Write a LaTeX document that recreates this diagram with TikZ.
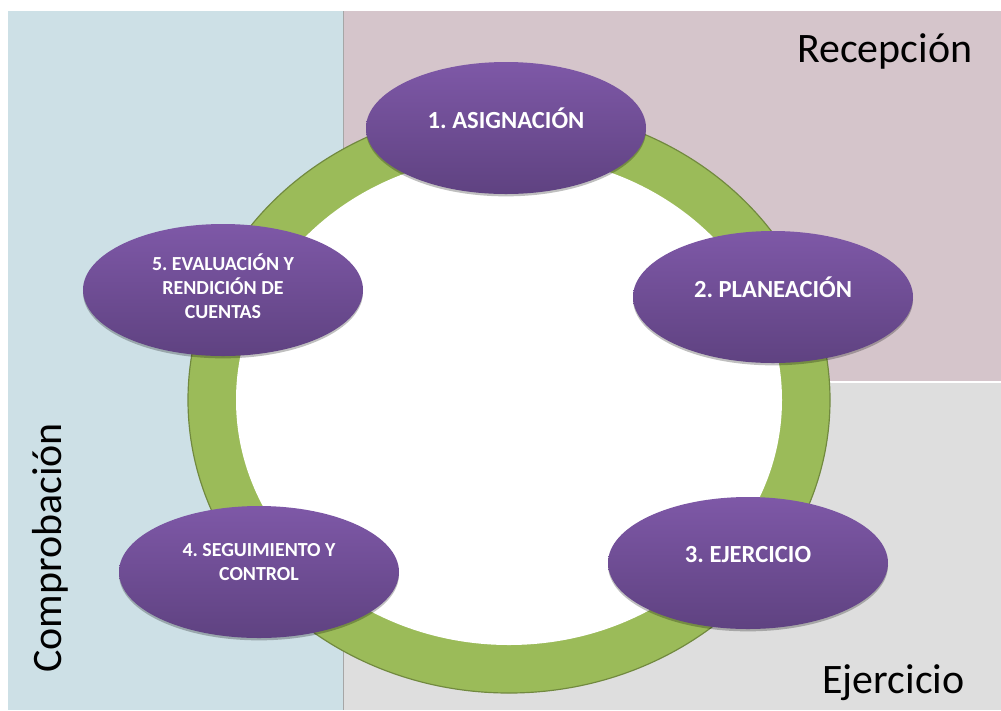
\documentclass[tikz,border=0pt]{standalone}
\usepackage{fontspec}
\setmainfont{Carlito}
\usetikzlibrary{shapes.geometric,shadows}
\frenchspacing

\definecolor{azul}{RGB}{205,224,230}
\definecolor{rosa}{RGB}{213,197,203}
\definecolor{gris}{RGB}{222,222,222}
\definecolor{verde}{RGB}{155,187,89}
\definecolor{verdeosc}{RGB}{113,137,63}
\definecolor{moradoA}{RGB}{126,88,167}
\definecolor{moradoB}{RGB}{95,66,129}

\tikzset{
  fase/.style={ellipse, minimum width=84mm, minimum height=39.6mm, inner sep=0pt,
    top color=moradoA, bottom color=moradoB,
    drop shadow={shadow xshift=0pt, shadow yshift=-2pt, opacity=.25, fill=black}},
  etiq/.style={text=white, font=\frenchspacing\bfseries\fontsize{21}{24}\selectfont},
  etiqdos/.style={text=white, align=center, font=\frenchspacing\bfseries\fontsize{17}{20.5}\selectfont},
  zona/.style={font=\fontsize{35.8}{40}\selectfont, inner sep=0pt}
}

\begin{document}
\begin{tikzpicture}[x=0.3mm, y=-0.3mm]

\useasboundingbox (0,0) rectangle (1001,710);

% fondos
\fill[azul] (8,11) rectangle (343,710);
\fill[rosa] (343,11) rectangle (1001,381);
\fill[gris] (343,383) rectangle (1001,710);
\draw[black!35, line width=0.5pt] (343,11) -- (343,710);

% anillo
\filldraw[fill=verde, draw=verdeosc, line width=1pt] (509,400) ellipse [x radius=321, y radius=293];
\fill[white] (509,400) ellipse [x radius=273, y radius=245];

% fases
\foreach \x/\y/\n in {506/128/asig, 773/297/plan, 748/563/ejer, 259/572/segu, 223/290/eval}
  \node[fase] (\n) at (\x,\y) {};

\node[etiq] (asigt) at (506,118) {1. ASIGNACIÓN};
\node[etiq] (plant) at (773,287) {2. PLANEACIÓN};
\node[etiq] (ejert) at (748,555) {3. EJERCICIO};
\node[etiqdos] (segut) at (259,562) {4. SEGUIMIENTO Y\\CONTROL};
\node[etiqdos] (evalt) at (223,286) {5. EVALUACIÓN Y\\RENDICIÓN DE\\CUENTAS};

% zonas
\node[zona, anchor=base west] (recep) at (797,62) {Recepción};
\node[zona, anchor=base west] (ejerz) at (822,693) {Ejercicio};
\node[zona, anchor=base west, rotate=90] (compr) at (61,673) {Comprobación};

\end{tikzpicture}
\end{document}
